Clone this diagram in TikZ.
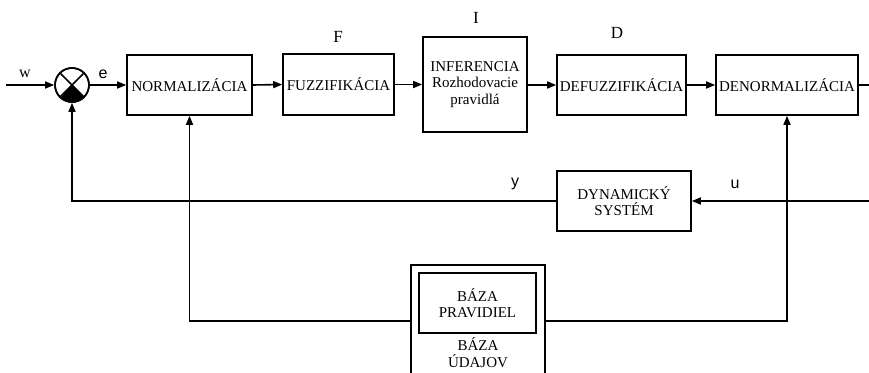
\documentclass[tikz,border=0pt]{standalone}
\usepackage{fontspec}
\setmainfont{Liberation Serif}
\newfontfamily\arialf{Liberation Sans}
\usetikzlibrary{arrows.meta}
\begin{document}
\begin{tikzpicture}[x=1pt,y=-1pt, line width=1.6pt,
  blk/.style={draw, line width=1.6pt, rectangle, inner sep=0pt, align=center, font=\fontsize{15}{16.5}\selectfont},
  lbl/.style={inner sep=0pt, font=\fontsize{17}{19}\selectfont},
  slbl/.style={inner sep=0pt, font=\arialf\fontsize{16}{18}\selectfont},
  arr/.style={-{Triangle[length=9pt,width=7pt]}}]
\clip (0,0) rectangle (869,372);
\useasboundingbox (0,0) rectangle (869,372);
% sum junction
\node[draw, circle, minimum size=34pt, inner sep=0pt, line width=1.6pt] (s) at (72,85) {};
\fill (s.center) -- (s.-45) arc[start angle=-45, end angle=-135, radius=17pt] -- cycle;
\draw (s.45) -- (s.-135);
\draw (s.135) -- (s.-45);
\draw (s) circle[radius=17pt];
% blocks
\node[blk, minimum width=125pt, minimum height=60pt] (norm) at (189.5,85) {NORMALIZÁCIA};
\node[blk, minimum width=111pt, minimum height=61pt] (fuzz) at (338.5,84.5) {FUZZIFIKÁCIA};
\node[blk, minimum width=104pt, minimum height=95pt] (inf) at (475,84.5) {INFERENCIA\\Rozhodovacie\\pravidlá};
\node[blk, minimum width=129pt, minimum height=60pt] (defz) at (621.5,85) {DEFUZZIFIKÁCIA};
\node[blk, minimum width=142pt, minimum height=60pt] (denorm) at (787,85) {DENORMALIZÁCIA};
\node[blk, minimum width=134pt, minimum height=60pt] (dyn) at (624,201) {DYNAMICKÝ\\SYSTÉM};
\node[blk, minimum width=134pt, minimum height=130pt] (bud) at (478,330) {};
\node[blk, minimum width=117pt, minimum height=60pt] (bpr) at (477.5,303) {BÁZA\\PRAVIDIEL};
\node[inner sep=0pt, align=center, font=\fontsize{15}{17}\selectfont] (budt) at (478,353) {BÁZA\\ÚDAJOV};
% labels
\node[lbl] (lF) at (338,37) {F};
\node[lbl] (lI) at (476,18) {I};
\node[lbl] (lD) at (617,33) {D};
\node[inner sep=0pt, font=\fontsize{16}{18}\selectfont] (lw) at (25,74) {w};
\node[slbl] (le) at (103,74) {e};
\node[slbl] (ly) at (515,184) {y};
\node[slbl] (lu) at (735,184) {u};
% coordinates
\coordinate (win) at (6,85);
\coordinate (rtop) at (870,85);
\coordinate (rbot) at (870,201);
\coordinate (fbc) at (s.south |- dyn.west);
\coordinate (nb) at (norm.south |- 0,321);
\coordinate (db) at (denorm.south |- 0,321);
% connectors
\draw[arr] (win) -- (s.west);
\draw[arr] (s.east) -- (norm.west);
\draw[arr] (norm.east) -- (fuzz.west);
\draw[arr] (fuzz.east) -- (inf.west |- fuzz.east);
\draw[arr] (inf.east |- defz.west) -- (defz.west);
\draw[arr] (defz.east) -- (denorm.west);
\draw (denorm.east) -- (rtop);
\draw[arr] (rbot) -- (dyn.east);
\draw[arr] (dyn.west) -- (fbc) -- (s.south);
\draw[arr] (bud.west |- nb) -- (nb) -- (norm.south);
\draw[arr] (bud.east |- db) -- (db) -- (denorm.south);
\end{tikzpicture}
\end{document}
